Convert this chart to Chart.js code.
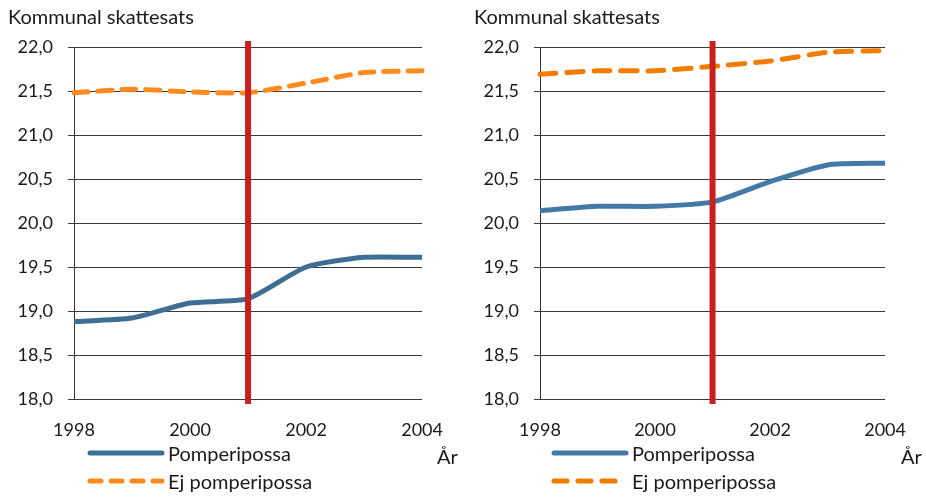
<!DOCTYPE html>
<html>
<head>
<meta charset="utf-8">
<script src="https://cdn.jsdelivr.net/npm/chart.js@4/dist/chart.umd.min.js"></script>
<style>
  html, body { margin: 0; padding: 0; background: #fff; }
  .wrap { display: flex; width: 926px; height: 497px; }
  .box { position: relative; width: 463px; height: 497px; }
</style>
</head>
<body>
<div class="wrap">
  <div class="box"><canvas id="leftChart"></canvas></div>
  <div class="box"><canvas id="rightChart"></canvas></div>
</div>
<script>
// Data
const years = ['1998', '1999', '2000', '2001', '2002', '2003', '2004'];
const yTicks = [18.0, 18.5, 19.0, 19.5, 20.0, 20.5, 21.0, 21.5, 22.0];
const dividerYear = '2001';
const titleText = 'Kommunal skattesats';
const axisTitle = 'År';
const seriesNames = ['Pomperipossa', 'Ej pomperipossa'];

const leftPomp = [18.88, 18.92, 19.09, 19.14, 19.50, 19.61, 19.61];
const leftEj   = [21.48, 21.52, 21.49, 21.48, 21.59, 21.71, 21.73];
const rightPomp = [20.14, 20.19, 20.19, 20.24, 20.47, 20.66, 20.68];
const rightEj   = [21.69, 21.73, 21.73, 21.78, 21.84, 21.94, 21.96];

const FONT = 'Lato, "Open Sans", sans-serif';
const TEXT = '#1a1a1a';

// draws title, divider line, legend and "År"
const extras = {
  id: 'extras',
  afterDatasetsDraw(chart, args, opts) {
    const ctx = chart.ctx;
    const area = chart.chartArea;
    const x = chart.scales.x.getPixelForValue(years.indexOf(dividerYear));
    ctx.save();
    ctx.strokeStyle = '#c8201f';
    ctx.lineWidth = 6;
    ctx.beginPath();
    ctx.moveTo(x, area.top - 6);
    ctx.lineTo(x, area.bottom + 5);
    ctx.stroke();
    ctx.restore();
  },
  afterDraw(chart, args, opts) {
    const ctx = chart.ctx;
    ctx.save();
    ctx.fillStyle = TEXT;
    ctx.textBaseline = 'middle';
    ctx.font = '20px ' + FONT;
    ctx.fillText(titleText, opts.titleX, 18);

    const rows = [453, 481];
    chart.data.datasets.forEach((ds, i) => {
      ctx.save();
      ctx.strokeStyle = ds.borderColor;
      ctx.lineWidth = 5;
      ctx.lineCap = 'round';
      ctx.setLineDash(i === 1 ? opts.legendDash : []);
      ctx.beginPath();
      ctx.moveTo(opts.legendX, rows[i]);
      ctx.lineTo(opts.legendX + 72, rows[i]);
      ctx.stroke();
      ctx.restore();
      ctx.fillText(ds.label, opts.legendX + 78, rows[i] + 2);
    });
    ctx.fillText(axisTitle, opts.arX, 458);
    ctx.restore();
  }
};

function makeChart(id, pomp, ej, cfg) {
  const ctx = document.getElementById(id).getContext('2d');
  return new Chart(ctx, {
    type: 'line',
    data: {
      labels: years,
      datasets: [{
        label: seriesNames[0],
        data: pomp,
        borderColor: cfg.blue,
        borderWidth: 5,
        pointRadius: 0,
        tension: 0.2,
        borderCapStyle: 'butt'
      }, {
        label: seriesNames[1],
        data: ej,
        borderColor: cfg.orange,
        borderWidth: 5,
        borderDash: cfg.dash,
        borderCapStyle: 'round',
        pointRadius: 0,
        tension: 0.2
      }]
    },
    options: {
      responsive: false,
      animation: false,
      layout: {
        padding: { top: 47, right: cfg.padRight, bottom: 0, left: 0 }
      },
      scales: {
        x: {
          grid: { display: false, drawTicks: false },
          border: { display: false },
          ticks: {
            autoSkip: false,
            maxRotation: 0,
            padding: 20,
            color: TEXT,
            font: { family: FONT, size: 18 },
            callback: function (v, i) { return i % 2 === 0 ? years[i] : ''; }
          },
          afterFit: function (s) { s.height = 98; }
        },
        y: {
          min: 18,
          max: 22,
          afterBuildTicks: function (s) { s.ticks = yTicks.map(v => ({ value: v })); },
          grid: { color: '#3a3a3a', lineWidth: 1, tickLength: 6 },
          border: { display: true, color: '#333', width: 1 },
          ticks: {
            padding: 15,
            color: TEXT,
            font: { family: FONT, size: 18 },
            callback: function (v) { return v.toFixed(1).replace('.', ','); }
          },
          afterFit: function (s) { s.width = cfg.axisX; }
        }
      },
      plugins: {
        legend: { display: false },
        tooltip: { enabled: false },
        extras: cfg.extras
      }
    },
    plugins: [extras]
  });
}

document.getElementById('leftChart').width = 463;
document.getElementById('leftChart').height = 497;
document.getElementById('rightChart').width = 463;
document.getElementById('rightChart').height = 497;

makeChart('leftChart', leftPomp, leftEj, {
  blue: '#3d6f95', orange: '#ff8a1e', dash: [14, 10],
  axisX: 74, padRight: 33,
  extras: { titleX: 8, legendX: 90, legendDash: [11, 10], arX: 437 }
});
makeChart('rightChart', rightPomp, rightEj, {
  blue: '#4379a6', orange: '#f07d00', dash: [16, 11],
  axisX: 77, padRight: 31,
  extras: { titleX: 11, legendX: 91, legendDash: [13, 11], arX: 438 }
});
</script>
</body>
</html>
